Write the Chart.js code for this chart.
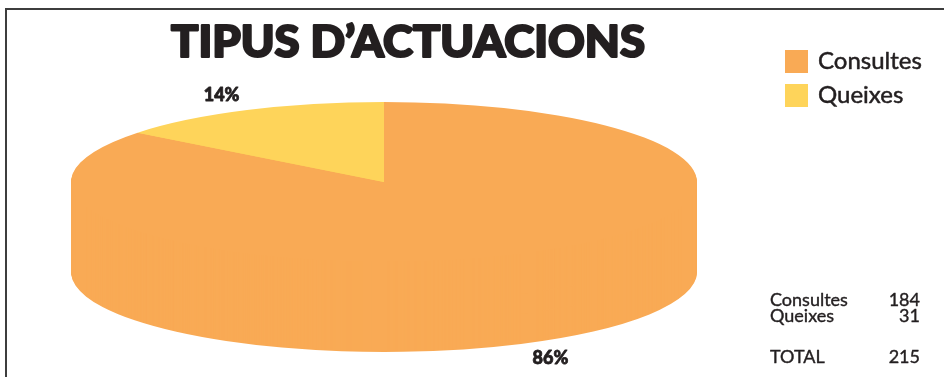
<!DOCTYPE html>
<html>
<head>
<meta charset="utf-8">
<script src="https://cdn.jsdelivr.net/npm/chart.js@4"></script>
<style>
  html, body { margin: 0; padding: 0; background: #fff; }
  #wrap { position: relative; width: 944px; height: 377px; }
</style>
</head>
<body>
<div id="wrap"><canvas id="pieChart" width="944" height="377"></canvas></div>
<script>
// data
const categories = ['Consultes', 'Queixes'];
const values = [184, 31];
const colors = ['#F9AA55', '#FED45A'];
const titleText = 'TIPUS D\u2019ACTUACIONS';
const totalLabel = 'TOTAL';

// look of the "3d" ellipse
const CX = 384, CY = 182, RX = 313, RY = 80, DEPTH = 90;
const ink = '#231F20';

function ellipseTransform(ctx, arc, dy) {
  ctx.translate(CX, CY + dy);
  ctx.scale(RX / arc.outerRadius, RY / arc.outerRadius);
  ctx.translate(-arc.x, -arc.y);
}

const pie3d = {
  id: 'pie3d',
  beforeDatasetsDraw(chart) {
    const ctx = chart.ctx;
    const meta = chart.getDatasetMeta(0);
    const arc = meta.data[0];
    // side walls: stack the slices downwards
    for (let d = DEPTH; d > 0; d--) {
      ctx.save();
      ellipseTransform(ctx, arc, d);
      meta.data.forEach(a => a.draw(ctx));
      ctx.restore();
    }
    ctx.save();
    ellipseTransform(ctx, arc, 0);
  },
  afterDatasetsDraw(chart) {
    chart.ctx.restore();
  }
};

// fill + thin stroke so the text looks as heavy as the original
function boldText(ctx, s, x, y, w) {
  ctx.fillText(s, x, y);
  if (w) {
    ctx.lineWidth = w;
    ctx.lineJoin = 'round';
    ctx.strokeText(s, x, y);
  }
}

const extras = {
  id: 'extras',
  afterDraw(chart) {
    const ctx = chart.ctx;
    const meta = chart.getDatasetMeta(0);
    const total = values.reduce((a, b) => a + b, 0);

    // frame
    ctx.save();
    ctx.strokeStyle = '#3d3d3d';
    ctx.lineWidth = 2;
    ctx.beginPath();
    ctx.moveTo(6, 377);
    ctx.lineTo(6, 9);
    ctx.lineTo(944, 9);
    ctx.stroke();

    ctx.fillStyle = ink;
    ctx.strokeStyle = ink;

    // title
    ctx.font = '900 43px Lato';
    ctx.textBaseline = 'alphabetic';
    const tw = ctx.measureText(titleText).width;
    ctx.save();
    ctx.translate(171, 57);
    ctx.scale(474 / tw, 1);
    ctx.textAlign = 'left';
    boldText(ctx, titleText, 0, 0, 2.2);
    ctx.restore();

    // percentage labels
    ctx.font = '900 18px Lato';
    ctx.textAlign = 'center';
    ctx.textBaseline = 'middle';
    meta.data.forEach((a, i) => {
      const mid = (a.startAngle + a.endAngle) / 2;
      const sy = Math.sin(mid);
      const x = CX + Math.cos(mid) * RX * 1.2;
      const y = CY + sy * RY * 1.2 + (sy > 0 ? DEPTH : 0);
      const pct = Math.round(values[i] / total * 100) + '%';
      boldText(ctx, pct, x + 2, y, 0.8);
    });

    // legend
    ctx.font = '24px Lato';
    ctx.textAlign = 'left';
    ctx.textBaseline = 'alphabetic';
    categories.forEach((c, i) => {
      const y = 50 + i * 34;
      ctx.fillStyle = colors[i];
      ctx.fillRect(785, y, 23, 23);
      ctx.fillStyle = ink;
      boldText(ctx, c, 818, y + 19, 0.5);
    });

    // table
    ctx.font = '18px Lato';
    const rows = categories.map((c, i) => [c, values[i]]);
    rows.forEach((r, i) => {
      const y = 306 + i * 16;
      ctx.textAlign = 'left';
      boldText(ctx, r[0], 770, y, 0.4);
      ctx.textAlign = 'right';
      boldText(ctx, String(r[1]), 920, y, 0.4);
    });
    ctx.textAlign = 'left';
    boldText(ctx, totalLabel, 770, 363, 0.4);
    ctx.textAlign = 'right';
    boldText(ctx, String(total), 920, 363, 0.4);
    ctx.restore();
  }
};

new Chart(document.getElementById('pieChart'), {
  type: 'pie',
  data: {
    labels: categories,
    datasets: [{
      data: values,
      backgroundColor: colors,
      borderWidth: 0,
      clip: false
    }]
  },
  options: {
    responsive: false,
    animation: false,
    events: [],
    plugins: {
      legend: { display: false },
      title: { display: false },
      tooltip: { enabled: false }
    }
  },
  plugins: [pie3d, extras]
});
</script>
</body>
</html>
